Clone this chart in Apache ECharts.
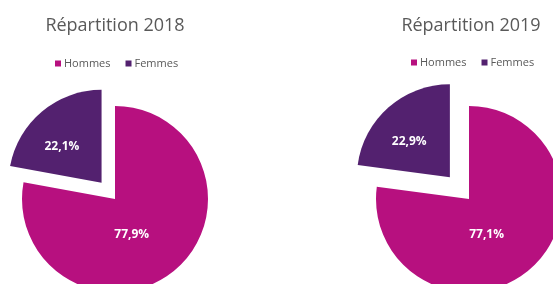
<!DOCTYPE html>
<html>
<head>
<meta charset="utf-8">
<script src="https://cdn.jsdelivr.net/npm/echarts@6/dist/echarts.min.js"></script>
<style>
  html, body { margin: 0; padding: 0; background: #fff; }
  #chart { width: 553px; height: 284px; }
</style>
</head>
<body>
<div id="chart"></div>
<script>
// données
var categories = ['Hommes', 'Femmes'];
var years = ['2018', '2019'];
var values2018 = [77.9, 22.1];
var values2019 = [77.1, 22.9];
var colors = ['#B7107F', '#53216F'];

var chart = echarts.init(document.getElementById('chart'), null, { renderer: 'canvas' });

function pieData(vals) {
  return categories.map(function (c, i) {
    return { name: c, value: vals[i], selected: i === 1 };
  });
}

function pieSeries(vals, center, offset) {
  return {
    type: 'pie',
    center: center,
    radius: 93,
    startAngle: 90,
    clockwise: true,
    selectedMode: 'single',
    selectedOffset: offset,
    silent: true,
    label: {
      show: true,
      position: 'inside',
      color: '#fff',
      fontWeight: 'bold',
      fontSize: 12,
      fontFamily: 'Open Sans',
      formatter: function (p) { return p.value.toFixed(1).replace('.', ',') + '%'; }
    },
    // décalage des étiquettes comme dans Excel
    labelLayout: function (p) {
      return p.dataIndex === 0 ? { dx: -15, dy: -2 } : { dx: -8, dy: 2 };
    },
    labelLine: { show: false },
    itemStyle: { borderWidth: 0 },
    data: pieData(vals)
  };
}

var legendText = { fontFamily: 'Open Sans', fontSize: 11, color: '#595959', padding: [0, 0, 0, -2] };
var titleText = { fontFamily: 'Open Sans', fontWeight: 'normal', fontSize: 18, color: '#595959' };

var option = {
  animation: false,
  color: colors,
  title: [
    { text: 'Répartition ' + years[0], left: 110, top: 12, textAlign: 'center', textStyle: titleText },
    { text: 'Répartition ' + years[1], left: 466, top: 12, textAlign: 'center', textStyle: titleText }
  ],
  legend: [
    { data: categories, left: 50, top: 53, icon: 'rect', itemWidth: 6, itemHeight: 6, itemGap: 15,
      selectedMode: false, textStyle: legendText },
    { data: categories, left: 406, top: 52, icon: 'rect', itemWidth: 6, itemHeight: 6, itemGap: 15,
      selectedMode: false, textStyle: legendText }
  ],
  series: [
    pieSeries(values2018, [115, 199], 21),
    pieSeries(values2019, [469, 199], 29)
  ]
};

chart.setOption(option);
</script>
</body>
</html>
